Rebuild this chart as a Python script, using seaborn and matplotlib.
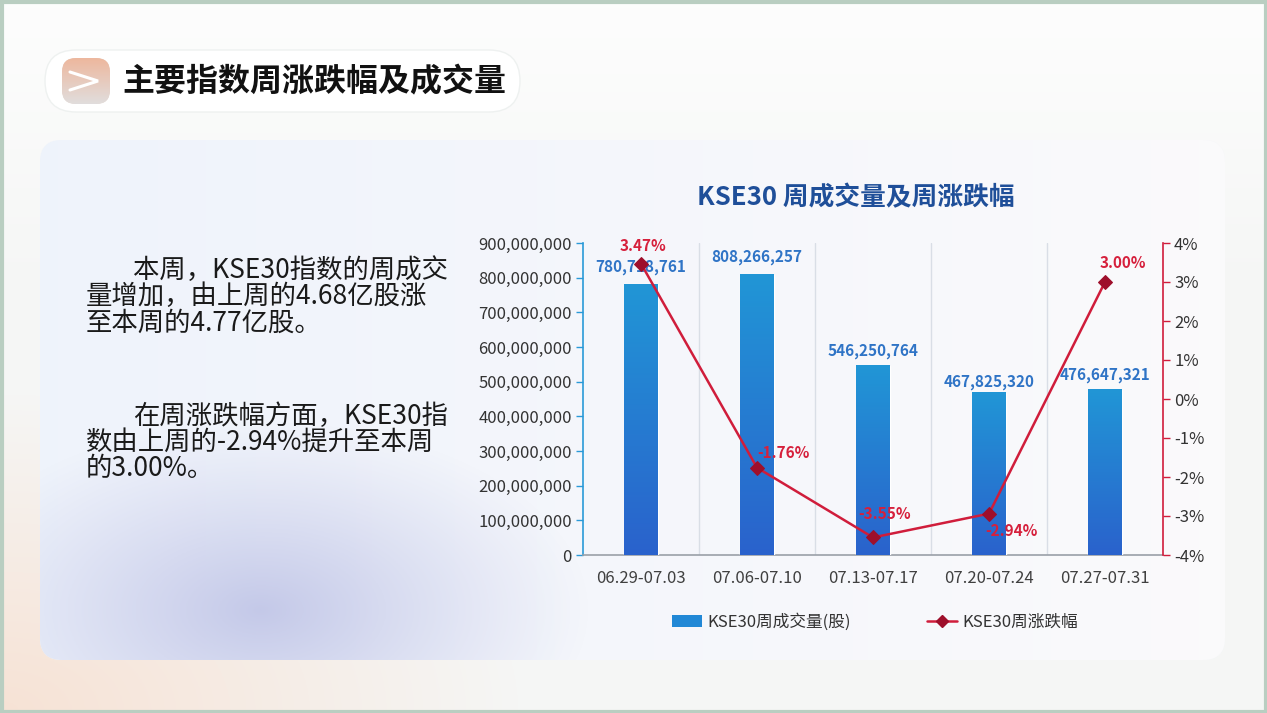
import numpy as np
import pandas as pd
import matplotlib
matplotlib.use("Agg")
import matplotlib.pyplot as plt
import seaborn as sns
from matplotlib.patches import FancyBboxPatch, Rectangle, Patch
from matplotlib.lines import Line2D
from matplotlib.colors import LinearSegmentedColormap

# ---------------- data ----------------
categories = ["06.29-07.03", "07.06-07.10", "07.13-07.17", "07.20-07.24", "07.27-07.31"]
volume = [780718761, 808266257, 546250764, 467825320, 476647321]
pct_change = [3.47, -1.76, -3.55, -2.94, 3.00]
left_ticks = [0, 100000000, 200000000, 300000000, 400000000, 500000000,
              600000000, 700000000, 800000000, 900000000]
right_ticks = [-4, -3, -2, -1, 0, 1, 2, 3, 4]
heading = "主要指数周涨跌幅及成交量"
chart_title = "KSE30 周成交量及周涨跌幅"
legend_labels = ["KSE30周成交量(股)", "KSE30周涨跌幅"]
para1 = ["本周，KSE30指数的周成交", "量增加，由上周的4.68亿股涨", "至本周的4.77亿股。"]
para2 = ["在周涨跌幅方面，KSE30指", "数由上周的-2.94%提升至本周", "的3.00%。"]

# ---------------- style ----------------
sns.set_theme(style="white")
plt.rcParams['font.family'] = ['Noto Sans CJK SC', 'DejaVu Sans']
plt.rcParams['axes.unicode_minus'] = False

W, H = 1267, 713
fig = plt.figure(figsize=(W / 100, H / 100), dpi=100)

# ---------------- background ----------------
bg = fig.add_axes([0, 0, 1, 1], zorder=0)
bg.set_xlim(0, W)
bg.set_ylim(H, 0)
bg.axis("off")
bg.add_patch(Rectangle((0, 0), W, H, facecolor="#f5f6f5", edgecolor="none"))

yy, xx = np.mgrid[0:H:2, 0:W:2]
# top of slide whiter
top = np.zeros((yy.shape[0], yy.shape[1], 4))
top[..., :3] = 1.0
top[..., 3] = np.clip(1 - yy / 300, 0, 1) * 0.8
bg.imshow(top, extent=[0, W, H, 0], aspect="auto", zorder=1)
# soft peach wash along the bottom-left
peach = np.zeros((yy.shape[0], yy.shape[1], 4))
peach[..., 0] = 0.97; peach[..., 1] = 0.88; peach[..., 2] = 0.82
a = np.clip(1 - np.hypot((xx - 0) / 520, (yy - 713) / 320), 0, 1) * 0.9
peach[..., 3] = a
bg.imshow(peach, extent=[0, W, H, 0], aspect="auto", zorder=1)

# panel
panel = FancyBboxPatch((40, 140), 1185, 520, boxstyle="round,pad=0,rounding_size=22",
                       facecolor="#f4f7fb", edgecolor="none", zorder=2)
bg.add_patch(panel)
grad = np.zeros((yy.shape[0], yy.shape[1], 4))
t = np.clip(xx / W, 0, 1)
grad[..., 0] = 0.935 + 0.05 * t
grad[..., 1] = 0.952 + 0.03 * t
grad[..., 2] = 0.985
grad[..., 3] = 1.0
im = bg.imshow(grad, extent=[0, W, H, 0], aspect="auto", zorder=2)
im.set_clip_path(panel)
# lavender blob lower-left
blob = np.zeros((yy.shape[0], yy.shape[1], 4))
blob[..., 0] = 0.74; blob[..., 1] = 0.76; blob[..., 2] = 0.90
ba = np.clip(1 - np.hypot((xx - 260) / 330, (yy - 610) / 190), 0, 1) ** 1.1 * 0.85
blob[..., 3] = ba
im2 = bg.imshow(blob, extent=[0, W, H, 0], aspect="auto", zorder=2.5)
im2.set_clip_path(panel)

# outer frame
bg.add_patch(Rectangle((1.5, 1.5), W - 3, H - 3, facecolor="none",
                       edgecolor="#b9cec1", lw=3, zorder=5))

# heading pill
bg.add_patch(FancyBboxPatch((45, 50), 475, 62, boxstyle="round,pad=0,rounding_size=31",
                            facecolor="#ffffff", edgecolor="#eef1f0", lw=1, zorder=3))
icon = FancyBboxPatch((62, 58), 48, 46, boxstyle="round,pad=0,rounding_size=14",
                      facecolor="#e9d9cf", edgecolor="none", zorder=4)
bg.add_patch(icon)
ig = np.zeros((40, 40, 4))
gy, gx = np.mgrid[0:40, 0:40]
ig[..., 0] = 0.93 - 0.05 * gy / 40
ig[..., 1] = 0.72 + 0.15 * gy / 40
ig[..., 2] = 0.62 + 0.25 * gy / 40
ig[..., 3] = 1
imi = bg.imshow(ig, extent=[62, 110, 104, 58], aspect="auto", zorder=4)
imi.set_clip_path(icon)
bg.plot([70, 98, 70], [72, 81, 90], color="white", lw=2.2, zorder=5,
        solid_joinstyle="miter")
bg.text(122, 82, heading, fontsize=23, fontweight="heavy", color="#111111",
        va="center", ha="left", zorder=6)

# body text
for i, line in enumerate(para1):
    bg.text(133 if i == 0 else 86, 270 + i * 26.5, line, fontsize=19, color="#1a1a1a",
            va="center", ha="left", zorder=6)
for i, line in enumerate(para2):
    bg.text(133 if i == 0 else 86, 416 + i * 26.5, line, fontsize=19, color="#1a1a1a",
            va="center", ha="left", zorder=6)

# ---------------- chart ----------------
L, R, T, B = 583, 1163, 243, 555
ax = fig.add_axes([L / W, 1 - B / H, (R - L) / W, (B - T) / H], zorder=2)
ax.patch.set_alpha(0)
df = pd.DataFrame({"week": categories, "volume": volume, "pct": pct_change})

sns.barplot(data=df, x="week", y="volume", ax=ax, width=0.29, color="#2188d6",
            saturation=1, zorder=3)

cmap = LinearSegmentedColormap.from_list("bar", ["#2a62cc", "#2196d6"])
gradv = np.linspace(0, 1, 256).reshape(-1, 1)
for p in list(ax.patches):
    x0, y0 = p.get_x(), p.get_y()
    w, h = p.get_width(), p.get_height()
    ax.imshow(gradv, extent=[x0, x0 + w, y0, y0 + h], origin="lower", aspect="auto",
              cmap=cmap, zorder=3)
    p.set_facecolor("none")

ax.set_xlim(-0.5, len(categories) - 0.5)
ax.set_ylim(0, 900000000)
ax.set_yticks(left_ticks)
ax.set_yticklabels([f"{v:,}" for v in left_ticks])
ax.set_xlabel("")
ax.set_ylabel("")
for b in np.arange(0.5, len(categories) - 0.5, 1):
    ax.axvline(b, color="#d9dee6", lw=1, zorder=1)

for s in ["top", "right"]:
    ax.spines[s].set_visible(False)
ax.spines["left"].set_color("#2a9ad8")
ax.spines["left"].set_linewidth(1.2)
ax.spines["bottom"].set_color("#9aa0a8")
ax.spines["bottom"].set_linewidth(1.2)
ax.tick_params(axis="y", which="major", left=True, length=5, width=1, color="#2a9ad8",
               labelsize=12, labelcolor="#333333", pad=3)
ax.tick_params(axis="x", bottom=False, labelsize=12, labelcolor="#404040", pad=5)

vol_offsets = [17, 18, 15, 11, 15]
for i, v in enumerate(volume):
    ax.annotate(f"{v:,}", (i, v), xytext=(0, vol_offsets[i] * 0.72), textcoords="offset points",
                ha="center", va="center", fontsize=11, fontweight="bold", color="#2f74c6",
                zorder=6)

ax2 = ax.twinx()
ax2.patch.set_alpha(0)
sns.lineplot(x=np.arange(len(categories)), y=pct_change, ax=ax2, color="#d01d3b",
             lw=1.8, marker="D", markersize=7, markerfacecolor="#9e0f2b",
             markeredgecolor="#9e0f2b", zorder=5)
ax2.set_ylim(-4, 4)
ax2.set_yticks(right_ticks)
ax2.set_yticklabels([f"{v}%" for v in right_ticks])
ax2.set_xlim(-0.5, len(categories) - 0.5)
for s in ["top", "left", "bottom"]:
    ax2.spines[s].set_visible(False)
ax2.spines["right"].set_color("#d01d3b")
ax2.spines["right"].set_linewidth(1.2)
ax2.tick_params(axis="y", right=True, length=5, width=1, color="#d01d3b",
                labelsize=12, labelcolor="#333333", pad=3)
ax2.grid(False)
ax.grid(False)

pct_offsets = [(2, 18), (26, 15), (12, 23), (22, -17), (18, 19)]
for i, v in enumerate(pct_change):
    dx, dy = pct_offsets[i]
    ax2.annotate(f"{v:.2f}%", (i, v), xytext=(dx * 0.72, dy * 0.72), textcoords="offset points",
                 ha="center", va="center", fontsize=11, fontweight="bold", color="#d6203c",
                 zorder=7)

fig.text(856 / W, 1 - 198 / H, chart_title, fontsize=18.5, fontweight="bold",
         color="#1f4f99", ha="center", va="center")

handles = [Patch(facecolor="#2188d6", edgecolor="none"),
           Line2D([], [], color="#d01d3b", lw=1.8, marker="D", markersize=6,
                  markerfacecolor="#9e0f2b", markeredgecolor="#9e0f2b")]
fig.legend(handles, legend_labels, loc="center", bbox_to_anchor=(875 / W, 1 - 622 / H),
           ncol=2, frameon=False, fontsize=12, columnspacing=4.6, handlelength=1.8,
           handletextpad=0.3, labelcolor="#333333")

fig.savefig("out.png", dpi=100)
